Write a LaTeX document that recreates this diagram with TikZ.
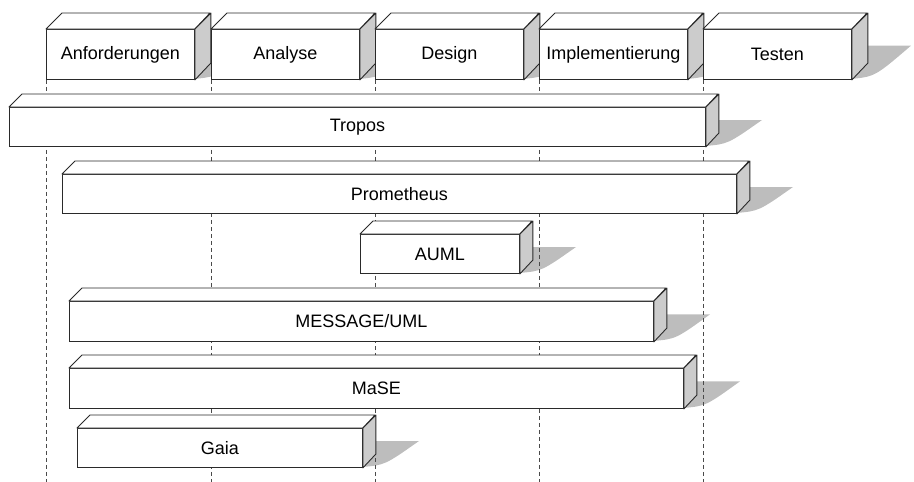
\documentclass[tikz,border=0pt]{standalone}
\usepackage{fontspec}
\setmainfont{Liberation Sans}
\pgfdeclarelayer{shadows}
\pgfdeclarelayer{guides}
\pgfsetlayers{shadows,guides,main}
\definecolor{edge}{HTML}{2A2A2A}
\definecolor{sideface}{HTML}{CCCCCC}
\definecolor{castshadow}{HTML}{BDBDBD}
\tikzset{
  front/.style={draw=edge, fill=white, line width=0.9pt, inner sep=0pt,
    anchor=north west, font=\fontsize{18}{22}\selectfont},
  topface/.style={draw=edge, fill=white, line width=0.9pt, line join=round},
  sidefc/.style={draw=edge, fill=sideface, line width=0.9pt, line join=round},
  guide/.style={draw=edge!85, line width=0.8pt, dash pattern=on 4pt off 3pt},
}
% #1 name, #2 x, #3 y (top of front face), #4 width, #5 height, #6 depth, #7 label
\newcommand\blockbox[7]{%
  \begin{pgfonlayer}{shadows}
    \fill[castshadow] ({#2+#4},{#3+#5}) -- ({#2+#4},{#3+#5/3})
      -- ({#2+#4+#6+44},{#3+#5/3})
      .. controls ({#2+#4+0.4*(#6+44)},{#3+0.95*#5}) .. ({#2+#4},{#3+#5}) -- cycle;
  \end{pgfonlayer}
  \node[front, minimum width=#4pt, minimum height=#5pt] (#1) at (#2,#3) {#7};
  \draw[topface] (#1.north west) -- ++(#6,-#6) -- ++(#4,0) -- (#1.north east) -- cycle;
  \draw[sidefc] (#1.north east) -- ++(#6,-#6) -- ++(0,#5) -- (#1.south east) -- cycle;
}
\begin{document}
\begin{tikzpicture}[x=1pt,y=-1pt]
  \useasboundingbox (0,0) rectangle (914,482);
  \coordinate (floor) at (0,482);
  % phases
  \blockbox{anf}{46}{29}{148}{50}{16}{Anforderungen}
  \blockbox{ana}{211}{29}{148}{50}{16}{Analyse}
  \blockbox{des}{375}{29}{148}{50}{16}{Design}
  \blockbox{imp}{539}{29}{148}{50}{16}{Implementierung}
  \blockbox{tes}{703}{29}{148}{50}{16}{Testen}
  % methodologies
  \blockbox{tropos}{9}{107}{696}{39}{13}{Tropos}
  \blockbox{prom}{62}{174}{674}{39}{13}{Prometheus}
  \blockbox{auml}{360}{234}{159}{39}{13}{AUML}
  \blockbox{msg}{69}{301}{584}{40}{13}{MESSAGE/UML}
  \blockbox{mase}{69}{368}{614}{40}{13}{MaSE}
  \blockbox{gaia}{77}{428}{285}{39}{13}{Gaia}
  % phase boundaries
  \begin{pgfonlayer}{guides}
    \foreach \p in {anf,ana,des,imp,tes}
      \draw[guide] (\p.south west) -- (\p.south west |- floor);
  \end{pgfonlayer}
\end{tikzpicture}
\end{document}
